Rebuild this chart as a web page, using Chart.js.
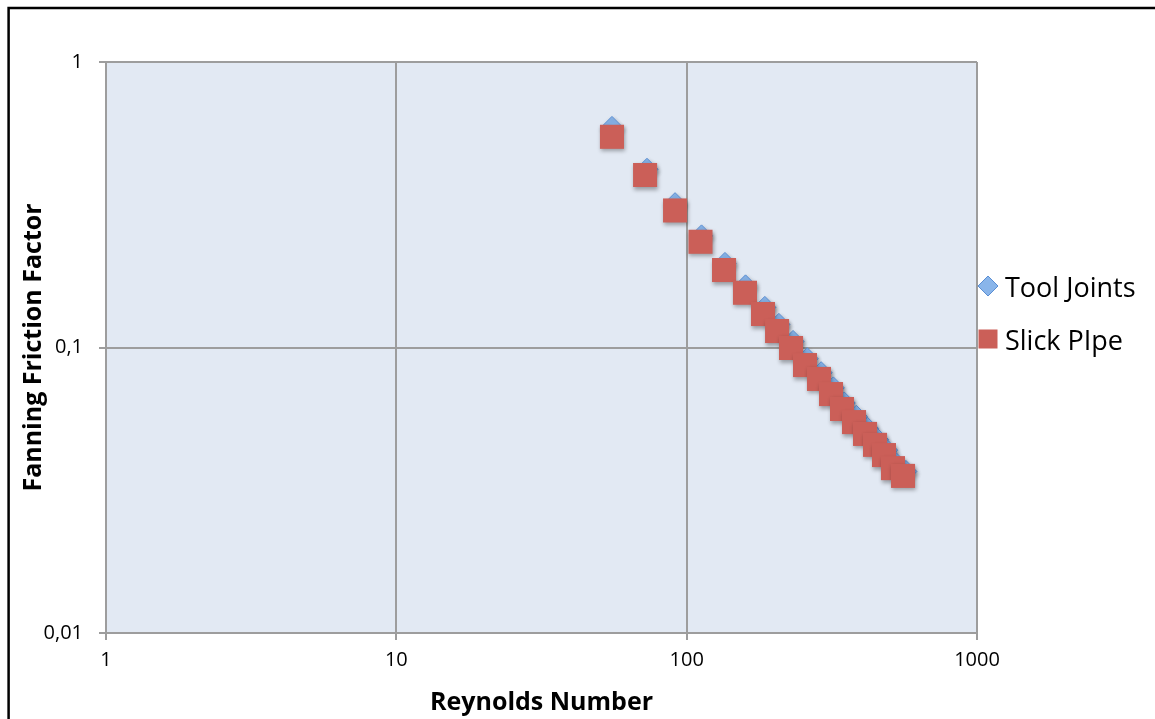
<!DOCTYPE html>
<html>
<head>
<meta charset="utf-8">
<title>Fanning Friction Factor vs Reynolds Number</title>
<script src="https://cdn.jsdelivr.net/npm/chart.js@4/dist/chart.umd.min.js"></script>
<style>
  html, body { margin: 0; padding: 0; background: #ffffff; }
  #wrap { width: 1155px; height: 719px; position: relative; }
</style>
</head>
<body>
<div id="wrap"><canvas id="chart" width="1155" height="719"></canvas></div>
<script>
// Series names
const seriesNames = ['Tool Joints', 'Slick PIpe'];

// Tool Joints: Reynolds number and Fanning friction factor
const toolJointsRe = [55.3, 73.0, 91.2, 112.5, 135.5, 159.5, 185.9, 207.8, 232.5, 260, 290.5, 320, 349, 384, 419.5, 454.5, 488.5, 525, 569];
const toolJointsF  = [0.590, 0.421, 0.319, 0.246, 0.197, 0.1644, 0.1382, 0.1205, 0.1050, 0.0914, 0.0816, 0.0722, 0.0639, 0.0574, 0.0521, 0.0476, 0.0437, 0.0393, 0.0368];

// Slick pipe: Reynolds number and Fanning friction factor
const slickPipeRe = [55.3, 71.9, 91.2, 111.6, 134.5, 158.8, 183.2, 204.8, 228.8, 255.6, 285.6, 314.2, 342.8, 377.1, 411.5, 445.4, 478.3, 513.6, 556.2];
const slickPipeF  = [0.547, 0.402, 0.302, 0.2346, 0.1868, 0.1555, 0.1310, 0.1142, 0.0996, 0.0868, 0.0776, 0.0687, 0.0609, 0.0548, 0.0498, 0.0456, 0.0420, 0.0378, 0.0355];

// Axis ticks and titles
const xTickValues = [1, 10, 100, 1000];
const xTickLabels = ['1', '10', '100', '1000'];
const yTickValues = [0.01, 0.1, 1];
const yTickLabels = ['0,01', '0,1', '1'];
const xTitle = 'Reynolds Number';
const yTitle = 'Fanning Friction Factor';

const GRID = '#9d9d9d';
const FONT = "'Open Sans', 'DejaVu Sans', sans-serif";

const toPoints = (xs, ys) => xs.map((x, i) => ({ x: x, y: ys[i] }));

// Light blue plot background
const plotBackground = {
  id: 'plotBackground',
  beforeDraw(chart) {
    const { ctx, chartArea: a } = chart;
    ctx.save();
    ctx.fillStyle = '#E2E9F3';
    ctx.fillRect(a.left, a.top, a.right - a.left, a.bottom - a.top);
    ctx.restore();
  }
};

// Soft drop shadow under the markers
const markerShadow = {
  id: 'markerShadow',
  beforeDatasetDraw(chart) {
    const ctx = chart.ctx;
    ctx.save();
    ctx.shadowColor = 'rgba(0,0,0,0.32)';
    ctx.shadowBlur = 4;
    ctx.shadowOffsetX = 1;
    ctx.shadowOffsetY = 2.5;
  },
  afterDatasetDraw(chart) {
    chart.ctx.restore();
  }
};

// Legend to the right of the plot
const sideLegend = {
  id: 'sideLegend',
  afterDraw(chart) {
    const ctx = chart.ctx;
    const ds = chart.data.datasets;
    ctx.save();
    // diamond
    const dx = 988, dy = 286, r = 10;
    ctx.beginPath();
    ctx.moveTo(dx - r, dy);
    ctx.lineTo(dx, dy - r);
    ctx.lineTo(dx + r, dy);
    ctx.lineTo(dx, dy + r);
    ctx.closePath();
    ctx.fillStyle = ds[0].pointBackgroundColor;
    ctx.fill();
    ctx.lineWidth = 1;
    ctx.strokeStyle = ds[0].pointBorderColor;
    ctx.stroke();
    // square
    ctx.fillStyle = ds[1].pointBackgroundColor;
    ctx.fillRect(978.5, 329.5, 19, 19);
    // labels
    ctx.fillStyle = '#000';
    ctx.font = '27px ' + FONT;
    ctx.textBaseline = 'alphabetic';
    ctx.textAlign = 'left';
    ctx.fillText(ds[0].label, 1005, 297);
    ctx.fillText(ds[1].label, 1005, 350);
    ctx.restore();
  }
};

// Black frame around the figure
const outerFrame = {
  id: 'outerFrame',
  afterDraw(chart) {
    const ctx = chart.ctx;
    ctx.save();
    ctx.strokeStyle = '#000';
    ctx.lineWidth = 2.5;
    ctx.strokeRect(8.6, 8, 1400, 900);
    ctx.restore();
  }
};

new Chart(document.getElementById('chart'), {
  type: 'scatter',
  data: {
    datasets: [
      {
        label: seriesNames[0],
        data: toPoints(toolJointsRe, toolJointsF),
        pointStyle: 'rectRot',
        pointRadius: 11,
        pointHoverRadius: 11,
        pointBackgroundColor: '#89B5EA',
        pointBorderColor: '#5A8ED3',
        pointBorderWidth: 1,
        order: 1
      },
      {
        label: seriesNames[1],
        data: toPoints(slickPipeRe, slickPipeF),
        pointStyle: 'rect',
        pointRadius: 17,
        pointHoverRadius: 17,
        pointBackgroundColor: '#CB5F58',
        pointBorderColor: '#CB5F58',
        pointBorderWidth: 0,
        order: 0
      }
    ]
  },
  options: {
    responsive: false,
    animation: false,
    devicePixelRatio: 1,
    layout: { padding: { left: 0, right: 178, top: 62, bottom: 0 } },
    plugins: {
      legend: { display: false },
      tooltip: { enabled: false }
    },
    scales: {
      x: {
        type: 'logarithmic',
        position: 'bottom',
        min: 1,
        max: 1000,
        afterBuildTicks(scale) { scale.ticks = xTickValues.map(v => ({ value: v })); },
        afterFit(scale) { scale.height = 86; },
        grid: { color: GRID, lineWidth: 2, tickLength: 7, drawTicks: true },
        border: { display: true, color: GRID, width: 2 },
        ticks: {
          color: '#000',
          font: { family: FONT, size: 20 },
          padding: 8,
          maxRotation: 0,
          autoSkip: false,
          callback: (v, i) => xTickLabels[i]
        },
        title: {
          display: true,
          text: xTitle,
          color: '#000',
          font: { family: FONT, size: 25, weight: 'bold' },
          padding: { top: 0, bottom: 1 }
        }
      },
      y: {
        type: 'logarithmic',
        position: 'left',
        min: 0.01,
        max: 1,
        afterBuildTicks(scale) { scale.ticks = yTickValues.map(v => ({ value: v })); },
        afterFit(scale) { scale.width = 106; },
        grid: { color: GRID, lineWidth: 2, tickLength: 7, drawTicks: true },
        border: { display: true, color: GRID, width: 2 },
        ticks: {
          color: '#000',
          font: { family: FONT, size: 20 },
          padding: 16,
          autoSkip: false,
          callback: (v, i) => yTickLabels[i]
        },
        title: {
          display: true,
          text: yTitle,
          color: '#000',
          font: { family: FONT, size: 25, weight: 'bold' },
          padding: { top: 19, bottom: 0 }
        }
      }
    }
  },
  plugins: [plotBackground, markerShadow, sideLegend, outerFrame]
});
</script>
</body>
</html>
